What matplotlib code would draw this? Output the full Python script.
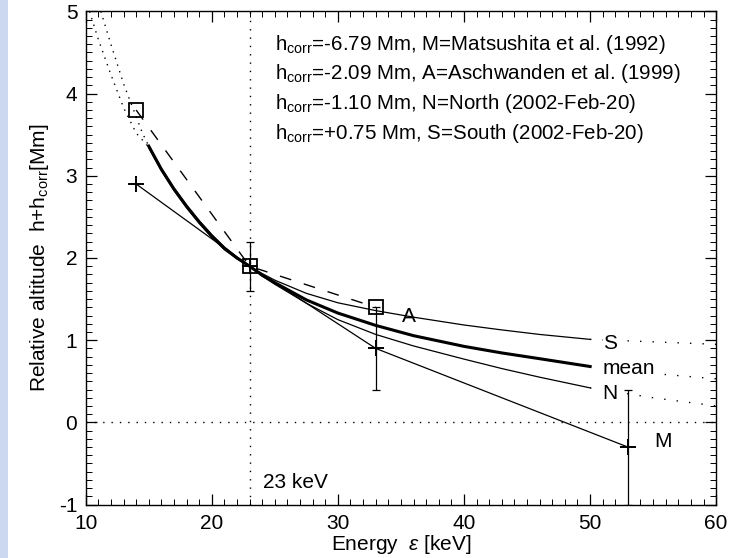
import matplotlib
matplotlib.use('Agg')
import matplotlib.pyplot as plt
from matplotlib.ticker import MultipleLocator
from matplotlib.patches import Rectangle

plt.rcParams['font.family'] = ['Liberation Sans', 'DejaVu Sans']
plt.rcParams['mathtext.fontset'] = 'custom'
plt.rcParams['mathtext.rm'] = 'Liberation Sans'
plt.rcParams['mathtext.it'] = 'Liberation Sans:italic'
plt.rcParams['axes.unicode_minus'] = False

# ---------------- data ----------------
m_energy = [14, 23, 33, 53]
m_height = [2.9, 1.9, 0.9, -0.3]
m_err = [0.0, 0.3, 0.5, 0.7]

a_energy = [14, 23, 33]
a_height = [3.8, 1.9, 1.4]

fit_energy = [15, 16, 17, 18, 19, 20, 21, 22, 23, 24, 25, 27.5, 30, 33, 36, 40, 43, 46, 50]
s_height = [3.34, 3.06, 2.82, 2.61, 2.42, 2.25, 2.10, 1.99, 1.90, 1.81, 1.73, 1.57, 1.455, 1.36,
            1.28, 1.185, 1.125, 1.07, 1.01]
mean_height = [3.36, 3.08, 2.84, 2.63, 2.44, 2.27, 2.12, 2.00, 1.90, 1.79, 1.70, 1.49, 1.33, 1.18,
               1.055, 0.925, 0.845, 0.775, 0.68]
n_height = [3.37, 3.09, 2.85, 2.64, 2.45, 2.28, 2.13, 2.01, 1.90, 1.78, 1.68, 1.45, 1.25, 1.07,
            0.93, 0.77, 0.655, 0.55, 0.42]

ext_energy = [50, 55, 60]
s_ext = [1.01, 0.98, 0.95]
mean_ext = [0.68, 0.595, 0.53]
n_ext = [0.42, 0.30, 0.20]

low1_energy = [10.3, 11, 12, 13, 14, 15]
low1_height = [5.0, 4.66, 4.23, 3.83, 3.52, 3.35]
low2_energy = [11.2, 12, 13, 14, 14.5, 15.1]
low2_height = [5.0, 4.6, 4.12, 3.72, 3.52, 3.33]

legend_lines = [
    r"h$_{\rm corr}$=-6.79 Mm, M=Matsushita et al. (1992)",
    r"h$_{\rm corr}$=-2.09 Mm, A=Aschwanden et al. (1999)",
    r"h$_{\rm corr}$=-1.10 Mm, N=North (2002-Feb-20)",
    r"h$_{\rm corr}$=+0.75 Mm, S=South (2002-Feb-20)",
]
ref_energy = 23

# ---------------- figure ----------------
fig = plt.figure(figsize=(7.30, 5.58), dpi=100)
fig.patches.append(Rectangle((0, 0), 0.011, 1, transform=fig.transFigure,
                             facecolor='#cbd8f0', edgecolor='none', zorder=0))
ax = fig.add_axes([0.1174, 0.0957, 0.8636, 0.8839])

dot = (0, (1, 8))
# reference lines
ax.axvline(ref_energy, color='black', lw=1.0, ls=(0, (1, 5)))
ax.axhline(0, color='black', lw=1.0, ls=(0, (1, 5)))

# fitted curves
ax.plot(fit_energy, s_height, color='black', lw=0.9)
ax.plot(fit_energy, mean_height, color='black', lw=2.2)
ax.plot(fit_energy, n_height, color='black', lw=0.9)
ax.plot(ext_energy, s_ext, color='black', lw=1.0, ls=dot)
ax.plot(ext_energy, mean_ext, color='black', lw=1.0, ls=dot)
ax.plot(ext_energy, n_ext, color='black', lw=1.0, ls=dot)
ax.plot(low1_energy, low1_height, color='black', lw=1.0, ls=(0, (1, 4)))
ax.plot(low2_energy, low2_height, color='black', lw=1.0, ls=(0, (1, 4)))

# Aschwanden (dashed, squares)
ax.plot(a_energy, a_height, color='black', lw=1.0, ls=(0, (8.5, 9.5)))
ax.plot(a_energy, a_height, ls='none', marker='s', ms=10.5, mfc='none',
        mec='black', mew=1.3)

# Matsushita (solid, plus, error bars)
ax.plot(m_energy, m_height, color='black', lw=0.9)
ax.errorbar(m_energy, m_height, yerr=m_err, fmt='none', ecolor='black',
            elinewidth=0.9, capsize=3, capthick=0.9, errorevery=(1, 1))
ax.plot(m_energy, m_height, ls='none', marker='+', ms=12, mew=1.4, color='black')

# curve labels
fs = 15
lab_kw = dict(fontsize=fs, ha='center', va='center',
              bbox=dict(facecolor='white', edgecolor='none', pad=0.3))
ax.text(51.6, 0.96, 'S', **lab_kw)
ax.text(53.05, 0.66, 'mean', **lab_kw)
ax.text(51.6, 0.355, 'N', **lab_kw)
ax.text(55.8, -0.23, 'M', fontsize=fs, ha='center', va='center')
ax.text(35.6, 1.29, 'A', fontsize=fs, ha='center', va='center')
ax.text(24.1, -0.73, '23 keV', fontsize=fs, ha='left', va='center')

for i, line in enumerate(legend_lines):
    ax.text(25.0, 4.60 - 0.36 * i, line, fontsize=14.8, ha='left', va='center')

# axes
ax.set_xlim(10, 60)
ax.set_ylim(-1, 5)
ax.xaxis.set_major_locator(MultipleLocator(10))
ax.xaxis.set_minor_locator(MultipleLocator(1))
ax.yaxis.set_major_locator(MultipleLocator(1))
ax.yaxis.set_minor_locator(MultipleLocator(0.1))
ax.tick_params(which='both', direction='in', top=True, right=True, labelsize=fs)
ax.tick_params(which='major', length=8, width=0.9)
ax.tick_params(which='minor', length=4, width=0.7)
ax.tick_params(axis='x', pad=7)
ax.tick_params(axis='y', pad=6)
for sp in ax.spines.values():
    sp.set_linewidth(1.0)

ax.set_xlabel(r'Energy  $\epsilon$ [keV]', fontsize=fs, labelpad=0)
ax.set_ylabel(r'Relative altitude  h+h$_{\rm corr}$[Mm]', fontsize=fs, labelpad=6)

fig.savefig('out.png', dpi=100)
